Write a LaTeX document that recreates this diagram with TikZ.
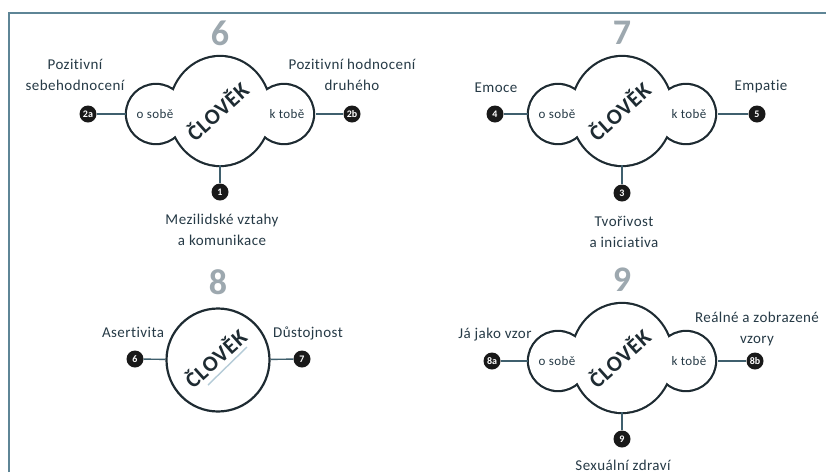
\documentclass[tikz,border=0pt]{standalone}
\usepackage{fontspec}
\setmainfont{Carlito}
\newfontfamily\labfont[LetterSpace=3,Ligatures=NoCommon]{Carlito}
\usetikzlibrary{shapes.geometric,calc}
\definecolor{framecol}{HTML}{5E8596}
\definecolor{numgrey}{HTML}{9DA8AF}
\definecolor{ink}{HTML}{263A46}
\definecolor{cloudline}{HTML}{1E2B32}
\definecolor{conn}{HTML}{3F5F6D}
\definecolor{taglinecol}{HTML}{B4CBD7}
\tikzset{
  lab/.style={text=ink, align=center, inner sep=0pt, anchor=base,
    font=\labfont\fontsize{15}{21}\selectfont},
  bignum/.style={text=numgrey, inner sep=0pt, font=\bfseries\fontsize{36}{36}\selectfont},
  numdot/.style={circle, fill=black!90, text=white, minimum size=17pt, inner sep=0pt,
    font=\bfseries\fontsize{10}{10}\selectfont},
  lobe/.style={circle, minimum size=58pt, inner sep=0pt, text=ink,
    font=\labfont\fontsize{13}{13}\selectfont},
  mainbub/.style={ellipse, minimum width=100pt, minimum height=108pt, inner sep=0pt},
  clovek/.style={rotate=42, inner sep=0pt, text=cloudline,
    font=\labfont\bfseries\fontsize{22}{22}\selectfont},
  connline/.style={conn, line width=1.4pt},
}
\newcommand{\mycloud}[2]{%
  \begin{scope}[shift={#2}]
    \draw[cloudline, line width=4.4pt] (0,0) ellipse [x radius=50pt, y radius=54pt]
      (-64,3) circle [radius=29pt] (64,3) circle [radius=29pt];
    \fill[white] (0,0) ellipse [x radius=50pt, y radius=54pt]
      (-64,3) circle [radius=29pt] (64,3) circle [radius=29pt];
    \node[mainbub] (#1M) at (0,0) {};
    \node[lobe] (#1L) at (-65,3) {o sobě};
    \node[lobe] (#1R) at (67,3) {k tobě};
    \node[clovek] (#1T) at (-3,0) {ČLOVĚK};
  \end{scope}}
\begin{document}
\begin{tikzpicture}[x=1pt,y=-1pt]
\useasboundingbox (0,0) rectangle (826,472);
\fill[white] (0,0) rectangle (826,472);
\draw[framecol, line width=2pt] (9,472) -- (9,13) -- (826,13);

% ---------- 6 ----------
\node[bignum] (h6) at (220,33) {6};
\mycloud{cA}{(220,111)}
\node[numdot] (d2a) at (88,114) {2a};
\node[numdot] (d2b) at (352,114) {2b};
\node[numdot] (d1) at (220,192) {1};
\draw[connline] (d2a) -- (cAL);
\draw[connline] (cAR) -- (d2b);
\draw[connline] (cAM.south) -- (d1);
\node[lab] (l2a) at (75,90) {Pozitivní\\sebehodnocení};
\node[lab] (l2b) at (352,90) {Pozitivní hodnocení\\druhého};
\node[lab] (l1) at (222,245) {Mezilidské vztahy\\a komunikace};

% ---------- 7 ----------
\node[bignum] (h7) at (622,33) {7};
\mycloud{cB}{(622,111)}
\node[numdot] (d4) at (495,114) {4};
\node[numdot] (d5) at (757,114) {5};
\node[numdot] (d3) at (622,193) {3};
\draw[connline] (d4) -- (cBL);
\draw[connline] (cBR) -- (d5);
\draw[connline] (cBM.south) -- (d3);
\node[lab] (l4) at (496,92) {Emoce};
\node[lab] (l5) at (761,90) {Empatie};
\node[lab] (l3) at (624,247) {Tvořivost\\a iniciativa};

% ---------- 8 ----------
\node[bignum] (h8) at (218,282) {8};
\node[circle, draw=cloudline, line width=2.2pt, minimum size=103pt, inner sep=0pt] (c8) at (218,360) {};
\node[clovek] (c8T) at (215,358) {ČLOVĚK};
\draw[taglinecol, line width=1.4pt] ($(c8)+(-10,25)$) -- ($(c8)+(29,-13)$);
\node[numdot] (d6) at (135,359) {6};
\node[numdot] (d7) at (302,359) {7};
\draw[connline] (d6) -- (c8);
\draw[connline] (c8) -- (d7);
\node[lab] (l6) at (133,337) {Asertivita};
\node[lab] (l7) at (308,337) {Důstojnost};

% ---------- 9 ----------
\node[bignum] (h9) at (622,280) {9};
\mycloud{cC}{(622,358)}
\node[numdot] (d8a) at (492,361) {8a};
\node[numdot] (d8b) at (755,361) {8b};
\node[numdot] (d9) at (622,439) {9};
\draw[connline] (d8a) -- (cCL);
\draw[connline] (cCR) -- (d8b);
\draw[connline] (cCM.south) -- (d9);
\node[lab] (l8a) at (495,338) {Já jako vzor};
\node[lab] (l8b) at (757,343) {Reálné a zobrazené\\vzory};
\node[lab] (l9) at (623,470) {Sexuální zdraví};
\end{tikzpicture}
\end{document}
